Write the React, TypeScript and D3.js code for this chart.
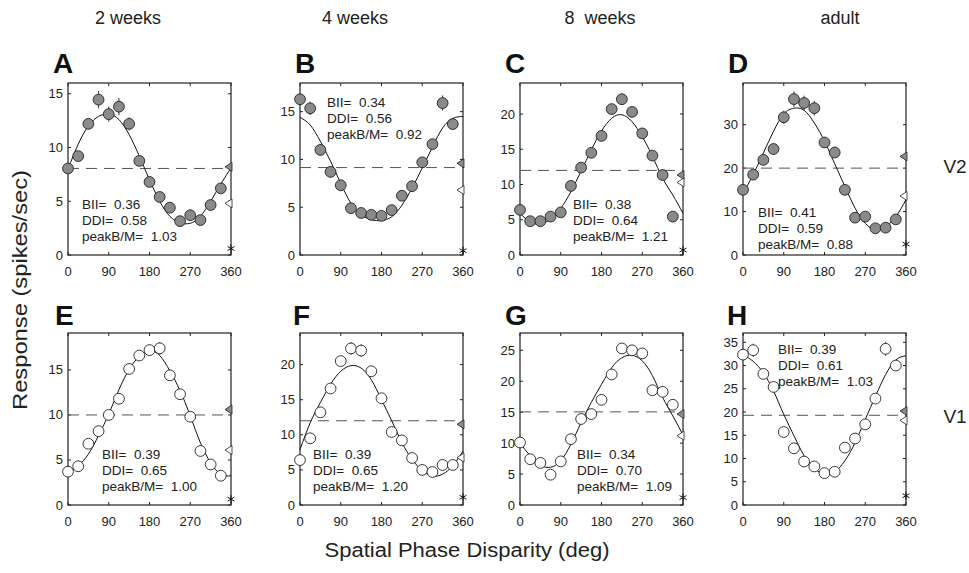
import { useRef, useEffect } from 'react';
import * as d3 from 'd3';

const WIDTH = 969;
const HEIGHT = 573;
const FONT = '"Liberation Sans", Arial, Helvetica, sans-serif';

// phase disparities of the measured points and of the sampled fit curve
const PHASES = [0, 22.5, 45, 67.5, 90, 112.5, 135, 157.5, 180, 202.5, 225, 247.5, 270, 292.5, 315, 337.5];
const FIT_PHASES = [0, 22.5, 45, 67.5, 90, 112.5, 135, 157.5, 180, 202.5, 225, 247.5, 270, 292.5, 315, 337.5, 360];
const X_TICKS = [0, 90, 180, 270, 360];

const AGES = ['2 weeks', '4 weeks', '8  weeks', 'adult'];
const AREAS = ['V2', 'V1'];
const LETTERS = ['A', 'B', 'C', 'D', 'E', 'F', 'G', 'H'];

// V2 (filled symbols)
const respA = [8.05, 9.2, 12.2, 14.45, 13.1, 13.8, 12.2, 8.75, 6.8, 5.4, 4.4, 3.15, 3.7, 3.25, 4.65, 6.2];
const errA = [0.3, 0.4, 0.5, 0.8, 0.7, 0.8, 0.6, 0.4, 0.3, 0.3, 0.3, 0.2, 0.3, 0.2, 0.3, 0.4];
const fitA = [8.0, 10.3, 12.0, 12.9, 13.1, 12.6, 11.2, 9.2, 7.0, 5.0, 3.6, 3.0, 2.95, 3.6, 5.0, 6.6, 8.1];

const respB = [16.3, 15.35, 11.0, 8.7, 7.3, 4.9, 4.4, 4.2, 4.1, 4.7, 6.2, 7.2, 9.7, 11.6, 15.9, 13.7];
const errB = [0.4, 0.7, 0.6, 0.6, 0.4, 0.3, 0.3, 0.3, 0.3, 0.3, 0.3, 0.3, 0.4, 0.4, 0.8, 0.5];
const fitB = [14.4, 13.6, 11.9, 9.8, 7.5, 5.4, 4.2, 3.7, 3.6, 4.0, 5.2, 7.0, 9.1, 11.3, 13.3, 14.3, 14.5];

const respC = [6.4, 4.8, 4.8, 5.45, 6.05, 9.8, 12.4, 14.5, 16.9, 20.7, 22.1, 20.3, 17.25, 14.1, 11.35, 5.45];
const errC = [0.4, 0.3, 0.3, 0.3, 0.4, 0.4, 0.5, 0.5, 0.5, 0.6, 0.8, 0.6, 0.6, 0.5, 0.5, 0.3];
const fitC = [5.9, 4.7, 4.4, 5.1, 6.6, 9.0, 11.9, 14.9, 17.6, 19.4, 19.9, 18.9, 16.8, 14.0, 10.9, 8.5, 5.9];

const respD = [15.0, 18.5, 21.9, 24.4, 31.7, 35.9, 35.0, 33.8, 25.9, 23.6, 15.0, 8.6, 8.85, 6.15, 6.3, 8.2];
const errD = [0.8, 1.0, 1.0, 1.3, 1.5, 1.8, 1.7, 1.7, 1.2, 1.3, 0.8, 0.6, 0.6, 0.5, 0.5, 0.6];
const fitD = [14.2, 18.5, 23.5, 28.5, 32.5, 33.8, 33.3, 30.4, 26.2, 21.0, 15.8, 10.8, 7.3, 5.8, 6.5, 8.8, 12.7];

// V1 (open symbols)
const respE = [3.7, 4.3, 6.8, 8.2, 10.0, 11.8, 15.1, 16.6, 17.2, 17.4, 14.4, 12.3, 9.8, 6.0, 4.5, 3.25];
const errE = [0.3, 0.3, 0.3, 0.3, 0.4, 0.4, 0.5, 0.6, 0.6, 0.7, 0.5, 0.4, 0.4, 0.3, 0.3, 0.3];
const fitE = [3.6, 4.35, 5.65, 7.7, 10.1, 12.8, 15.05, 16.5, 17.1, 16.6, 14.9, 12.7, 9.9, 6.9, 4.7, 3.4, 3.25];

const respF = [6.4, 9.5, 13.2, 16.6, 20.5, 22.3, 22.0, 19.05, 15.2, 10.4, 9.2, 6.7, 5.0, 4.7, 5.7, 5.7];
const errF = [0.4, 0.5, 0.6, 0.6, 0.6, 0.9, 0.9, 0.6, 0.5, 0.4, 0.4, 0.4, 0.3, 0.3, 0.3, 0.3];
const fitF = [7.9, 11.7, 14.6, 17.2, 19.05, 19.85, 19.5, 17.85, 15.0, 12.0, 8.9, 6.5, 4.9, 4.1, 4.4, 5.6, 7.7];

const respG = [10.1, 7.4, 6.8, 4.9, 7.05, 10.65, 13.9, 14.7, 17.0, 21.1, 25.3, 25.0, 24.5, 18.55, 18.3, 16.2];
const errG = [0.4, 0.4, 0.4, 0.4, 0.4, 0.5, 0.5, 0.5, 0.6, 0.6, 0.6, 0.6, 0.6, 0.5, 0.5, 0.5];
const fitG = [10.0, 7.95, 6.45, 6.1, 7.15, 9.85, 13.3, 16.6, 19.5, 22.2, 23.8, 24.2, 23.3, 20.9, 17.4, 14.4, 11.3];

const respH = [32.35, 33.3, 28.2, 25.4, 15.7, 12.2, 9.35, 8.3, 6.85, 7.15, 12.35, 14.3, 17.35, 22.9, 33.6, 30.0];
const errH = [0.7, 1.4, 1.1, 0.8, 0.7, 0.6, 0.5, 0.5, 0.4, 0.5, 0.6, 0.6, 0.7, 0.8, 1.5, 1.0];
const fitH = [32.35, 30.9, 28.4, 24.5, 19.5, 14.9, 10.6, 7.9, 6.6, 7.15, 9.5, 13.4, 18.4, 23.4, 28.05, 31.2, 32.1];

// per-panel reference levels and indices
const baseline = [8.05, 9.15, 12.0, 20.0, 10.0, 12.0, 15.05, 19.3];
const binocular = [8.2, 9.6, 11.35, 22.7, 10.6, 11.5, 14.7, 20.2];
const monocular = [4.8, 6.8, 10.3, 13.6, 6.1, 6.75, 11.2, 18.2];
const spontaneous = [0.6, 0.45, 0.7, 2.5, 0.65, 1.1, 1.2, 2.0];
const BII = ['0.36', '0.34', '0.38', '0.41', '0.39', '0.39', '0.34', '0.39'];
const DDI = ['0.58', '0.56', '0.64', '0.59', '0.65', '0.65', '0.70', '0.61'];
const PEAK = ['1.03', '0.92', '1.21', '0.88', '1.00', '1.20', '1.09', '1.03'];
const Y_MAX = [16, 18, 24.4, 39.6, 19.1, 24.5, 27.8, 37];
const Y_TICKS = [
  [0, 5, 10, 15], [0, 5, 10, 15], [0, 5, 10, 15, 20], [0, 10, 20, 30],
  [0, 5, 10, 15], [0, 5, 10, 15, 20], [0, 5, 10, 15, 20, 25], [0, 5, 10, 15, 20, 25, 30, 35],
];

const RESP = [respA, respB, respC, respD, respE, respF, respG, respH];
const ERR = [errA, errB, errC, errD, errE, errF, errG, errH];
const FIT = [fitA, fitB, fitC, fitD, fitE, fitF, fitG, fitH];

// layout (pixels)
const COL_X = [68, 300, 520, 743];
const PANEL_W = 163;
const ROW_Y = [83, 333];
const PANEL_H = 172;
const LETTER_POS = [[53, 73], [295, 73], [505, 73], [728, 73], [55, 325], [293, 325], [505, 325], [727, 325]];
const STATS_POS = [[82, 209], [327, 107], [573, 209], [758, 217], [102, 459], [313, 459], [577, 459], [778, 354]];
const TITLE_X = [128, 355, 600, 840];

export default function App() {
  const svgRef = useRef<SVGSVGElement>(null);

  useEffect(() => {
    if (!svgRef.current) return;
    const svg = d3.select(svgRef.current);
    svg.selectAll('*').remove();
    svg.append('rect').attr('width', WIDTH).attr('height', HEIGHT).attr('fill', '#fff');

    // column titles
    AGES.forEach((t, i) => {
      svg.append('text')
        .attr('x', TITLE_X[i]).attr('y', 24)
        .attr('text-anchor', 'middle')
        .attr('font-size', 18).attr('fill', '#222')
        .style('white-space', 'pre')
        .text(t);
    });

    // row labels
    AREAS.forEach((t, i) => {
      svg.append('text')
        .attr('x', 955).attr('y', ROW_Y[i] + PANEL_H / 2 + 4)
        .attr('text-anchor', 'middle')
        .attr('font-size', 19).attr('fill', '#222')
        .text(t);
    });

    // axis titles
    svg.append('text')
      .attr('transform', 'translate(27,290) rotate(-90)')
      .attr('text-anchor', 'middle')
      .attr('font-size', 20).attr('fill', '#222')
      .attr('textLength', 240).attr('lengthAdjust', 'spacingAndGlyphs')
      .text('Response (spikes/sec)');
    svg.append('text')
      .attr('x', 467).attr('y', 557)
      .attr('text-anchor', 'middle')
      .attr('font-size', 20).attr('fill', '#222')
      .attr('textLength', 285).attr('lengthAdjust', 'spacingAndGlyphs')
      .text('Spatial Phase Disparity (deg)');

    LETTERS.forEach((letter, i) => {
      const row = Math.floor(i / 4);
      const col = i % 4;
      const x0 = COL_X[col];
      const y0 = ROW_Y[row];
      const filled = row === 0;

      const x = d3.scaleLinear().domain([0, 360]).range([x0, x0 + PANEL_W]);
      const y = d3.scaleLinear().domain([0, Y_MAX[i]]).range([y0 + PANEL_H, y0]);

      const g = svg.append('g');

      g.append('text')
        .attr('x', LETTER_POS[i][0]).attr('y', LETTER_POS[i][1])
        .attr('font-size', 28).attr('font-weight', 700).attr('fill', '#111')
        .text(letter);

      // inward ticks on all four sides
      Y_TICKS[i].forEach(t => {
        g.append('line').attr('x1', x0).attr('x2', x0 + 3).attr('y1', y(t)).attr('y2', y(t)).attr('stroke', '#222');
        g.append('line').attr('x1', x0 + PANEL_W).attr('x2', x0 + PANEL_W - 3).attr('y1', y(t)).attr('y2', y(t)).attr('stroke', '#222');
        g.append('text')
          .attr('x', x0 - 5).attr('y', y(t) + 4.5)
          .attr('text-anchor', 'end')
          .attr('font-size', 13).attr('fill', '#222')
          .text(t);
      });
      X_TICKS.forEach(t => {
        g.append('line').attr('x1', x(t)).attr('x2', x(t)).attr('y1', y0 + PANEL_H).attr('y2', y0 + PANEL_H - 3).attr('stroke', '#222');
        g.append('line').attr('x1', x(t)).attr('x2', x(t)).attr('y1', y0).attr('y2', y0 + 3).attr('stroke', '#222');
        g.append('text')
          .attr('x', x(t)).attr('y', y0 + PANEL_H + 21)
          .attr('text-anchor', 'middle')
          .attr('font-size', 13).attr('fill', '#222')
          .text(t);
      });

      g.append('rect')
        .attr('x', x0).attr('y', y0).attr('width', PANEL_W).attr('height', PANEL_H)
        .attr('fill', 'none').attr('stroke', '#222').attr('stroke-width', 1.2);

      // baseline
      g.append('line')
        .attr('x1', x0).attr('x2', x0 + PANEL_W)
        .attr('y1', y(baseline[i])).attr('y2', y(baseline[i]))
        .attr('stroke', '#555').attr('stroke-dasharray', '11,7');

      // fit curve
      const line = d3.line<number>()
        .x((_, k) => x(FIT_PHASES[k]))
        .y(d => y(d))
        .curve(d3.curveNatural);
      g.append('path')
        .attr('d', line(FIT[i]))
        .attr('fill', 'none').attr('stroke', '#111').attr('stroke-width', 1);

      // error bars + points
      RESP[i].forEach((v, k) => {
        g.append('line')
          .attr('x1', x(PHASES[k])).attr('x2', x(PHASES[k]))
          .attr('y1', y(v - ERR[i][k])).attr('y2', y(v + ERR[i][k]))
          .attr('stroke', '#333').attr('stroke-width', 1);
      });
      RESP[i].forEach((v, k) => {
        g.append('circle')
          .attr('cx', x(PHASES[k])).attr('cy', y(v)).attr('r', 5.4)
          .attr('fill', filled ? '#8a8a8a' : '#fff')
          .attr('stroke', '#222').attr('stroke-width', 0.9);
      });

      // monocular markers on the right edge
      const xr = x0 + PANEL_W + 1;
      const tri = (v: number) => `M${xr},${y(v) - 4.5} L${xr - 7},${y(v)} L${xr},${y(v) + 4.5} Z`;
      g.append('path').attr('d', tri(binocular[i]))
        .attr('fill', '#8a8a8a').attr('stroke', '#222').attr('stroke-width', 0.8);
      g.append('path').attr('d', tri(monocular[i]))
        .attr('fill', '#fff').attr('stroke', '#222').attr('stroke-width', 0.8);
      g.append('path')
        .attr('d', d3.symbol(d3.symbolAsterisk, 45)())
        .attr('transform', `translate(${x0 + PANEL_W},${y(spontaneous[i])})`)
        .attr('fill', 'none').attr('stroke', '#111').attr('stroke-width', 1);

      // index text
      const [sx, sy] = STATS_POS[i];
      [`BII=  ${BII[i]}`, `DDI=  ${DDI[i]}`, `peakB/M=  ${PEAK[i]}`].forEach((s, k) => {
        g.append('text')
          .attr('x', sx).attr('y', sy + k * 16)
          .attr('font-size', 13.5).attr('fill', '#222')
          .style('white-space', 'pre')
          .text(s);
      });
    });
  }, []);

  return (
    <svg
      ref={svgRef}
      width={WIDTH}
      height={HEIGHT}
      style={{ position: 'absolute', left: 0, top: 0, fontFamily: FONT }}
    />
  );
}
